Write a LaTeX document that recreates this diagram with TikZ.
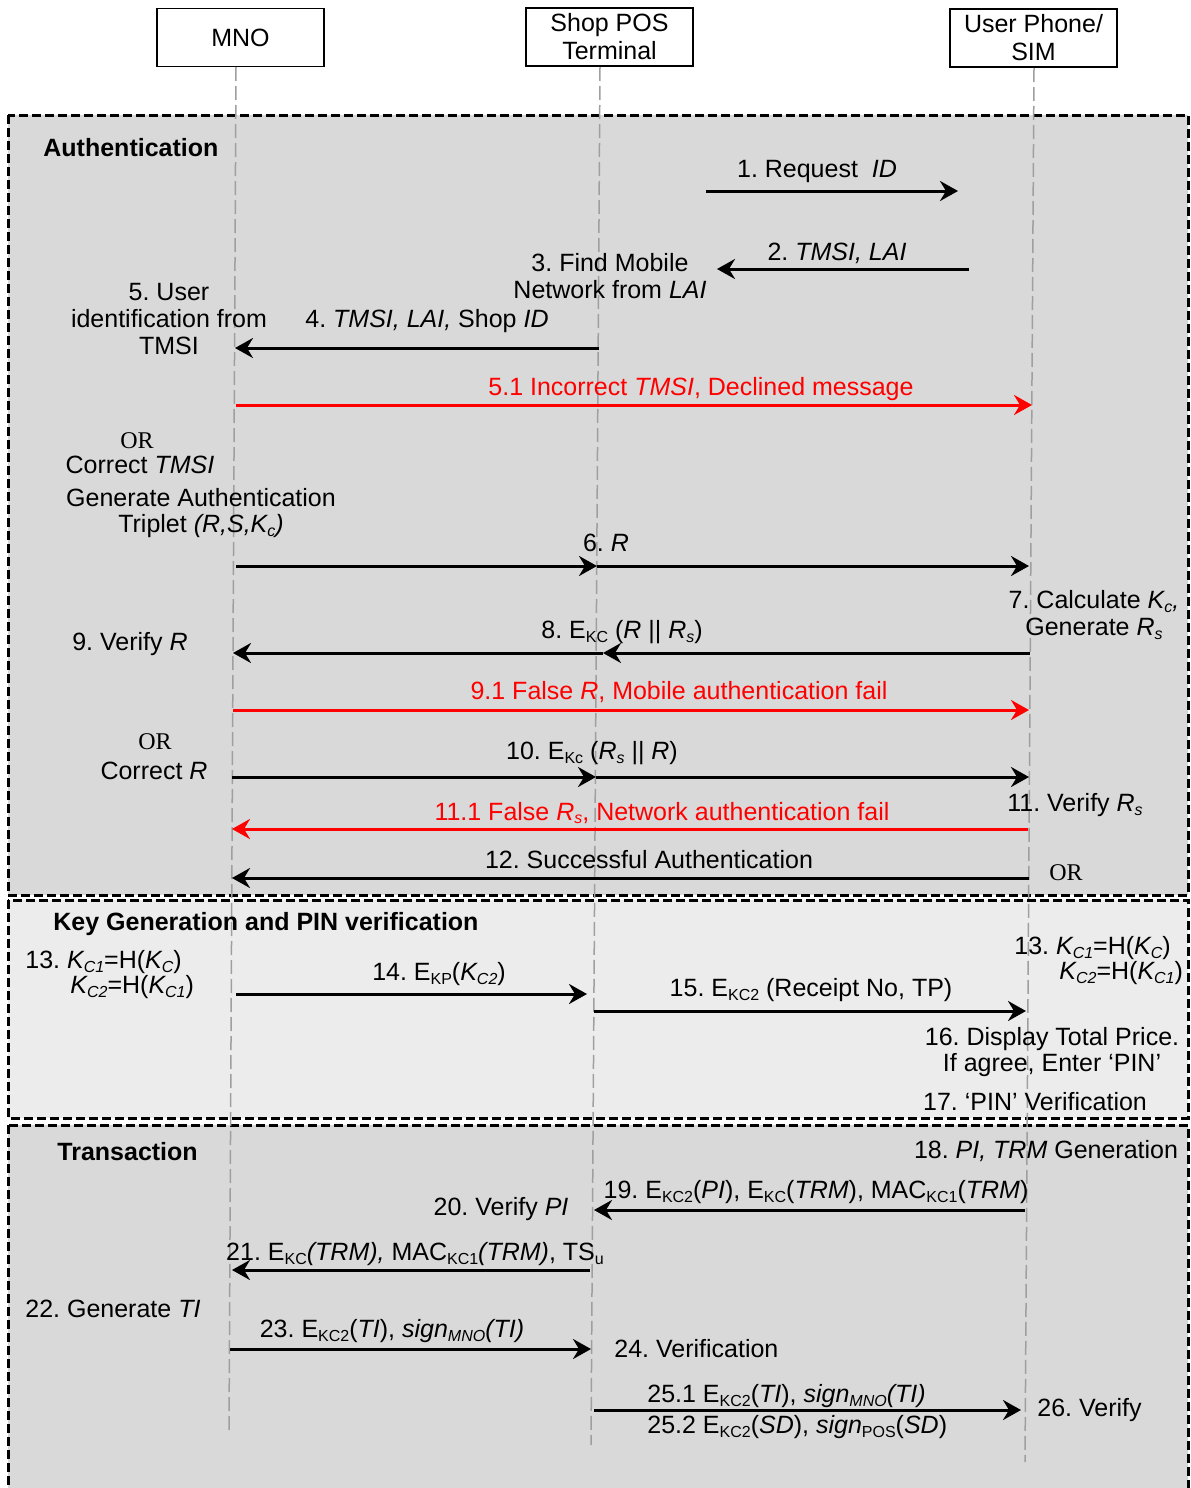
\documentclass[tikz,border=0pt]{standalone}
\usepackage{fontspec}
\setmainfont{Liberation Sans}
\newfontfamily\orfont{Liberation Serif}
\usetikzlibrary{arrows.meta}
\newcommand\lsb[1]{\raisebox{-0.3ex}{\fontsize{8}{8}\selectfont #1}}
\frenchspacing
\begin{document}
\begin{tikzpicture}[x=0.5pt,y=-0.5pt,
  font=\fontsize{12.5}{13.3}\selectfont,
  lbl/.style={inner sep=0pt, align=center, yshift=-1pt},
  orl/.style={inner sep=0pt, font=\orfont\fontsize{12}{12}\selectfont},
  ttl/.style={inner sep=0pt, anchor=west, font=\bfseries\fontsize{12.5}{13.3}\selectfont},
  msg/.style={line width=1.5pt, -{Stealth[length=9pt,width=10pt,inset=3pt]}},
  redmsg/.style={msg, red},
  life/.style={draw=gray!75, line width=0.75pt, dash pattern=on 7pt off 2.5pt},
  sect/.style={draw=black, line width=1.5pt, dash pattern=on 4.5pt off 2pt},
  hdr/.style={draw, line width=0.75pt, minimum width=83.5pt, minimum height=29pt, align=center, inner sep=0pt, fill=white, font=\fontsize{12.5}{14}\selectfont}]
\useasboundingbox (0,0) rectangle (1190,1488);
\clip (0,0) rectangle (1190,1488);
% sections
\path[sect, fill=gray!30] (8,115) rectangle (1188,895);
\path[sect, fill=gray!15] (8,900) rectangle (1188,1118);
\path[sect, fill=gray!30] (8,1125) rectangle (1188,1510);
% headers
\node[hdr] (mno) at (240.5,37.5) {MNO};
\node[hdr] (pos) at (609.5,37) {Shop POS\\Terminal};
\node[hdr] (usr) at (1033.5,38) {User Phone/\\SIM};
% lifelines
\coordinate (mnoT) at (236,67); \coordinate (mnoB) at (229,1432);
\coordinate (posT) at (600,67); \coordinate (posB) at (591,1445);
\coordinate (usrT) at (1034,68); \coordinate (usrB) at (1025,1462);
\draw[life] (mnoT) -- (mnoB);
\draw[life] (posT) -- (posB);
\draw[life] (usrT) -- (usrB);
% titles
\node[ttl] (tA) at (43,148) {Authentication};
\node[ttl] (tK) at (53,924) {Key Generation and PIN verification};
\node[ttl] (tT) at (57,1152) {Transaction};
% ---- Authentication texts
\node[lbl] (l1) at (817,169) {1. Request \ \textit{ID}};
\node[lbl] (l2) at (837,251) {2. \textit{TMSI, LAI}};
\node[lbl] (l3) at (610,274) {3. Find Mobile\\Network from \textit{LAI}};
\node[lbl] (l5) at (169,317) {5. User\\identification from\\TMSI};
\node[lbl] (l4) at (427,319) {4. \textit{TMSI, LAI,} Shop \textit{ID}};
\node[lbl, text=red] (l51) at (701,387) {5.1 Incorrect \textit{TMSI}, Declined message};
\node[orl] (or1) at (137,441) {OR};
\node[lbl] (ct) at (140,463) {Correct \textit{TMSI}};
\node[lbl] (gat) at (201,511) {Generate Authentication\\Triplet \textit{(R,S,K\lsb{c})}};
\node[lbl] (l6) at (606,541) {6. \textit{R}};
\node[lbl] (l7) at (1094,613) {7. Calculate \textit{K\lsb{c},}\\Generate \textit{R\lsb{s}}};
\node[lbl] (l8) at (622,630) {8. E\lsb{KC} (\textit{R} || \textit{R\lsb{s}})};
\node[lbl] (l9) at (130,642) {9. Verify \textit{R}};
\node[lbl, text=red] (l91) at (679,690) {9.1 False \textit{R}, Mobile authentication fail};
\node[orl] (or2) at (155,742) {OR};
\node[lbl] (cr) at (154,769) {Correct \textit{R}};
\node[lbl] (l10) at (592,751) {10. E\lsb{Kc} (\textit{R\lsb{s}} || \textit{R})};
\node[lbl] (l11) at (1075,803) {11. Verify \textit{R\lsb{s}}};
\node[lbl, text=red] (l111) at (662,811) {11.1 False \textit{R\lsb{s}}, Network authentication fail};
\node[lbl] (l12) at (649,858) {12. Successful Authentication};
\node[orl] (or3) at (1066,873) {OR};
% ---- Key generation texts
\node[lbl, anchor=west] (l13a) at (25,960) {13. \textit{K\lsb{C1}}=H(\textit{K\lsb{C}})};
\node[lbl, anchor=west] (l13b) at (70,985) {\textit{K\lsb{C2}}=H(\textit{K\lsb{C1}})};
\node[lbl] (l14) at (439,972) {14. E\lsb{KP}(\textit{K\lsb{C2}})};
\node[lbl] (l15) at (811,988) {15. E\lsb{KC2} (Receipt No, TP)};
\node[lbl, anchor=west] (r13a) at (1014,946) {13. \textit{K\lsb{C1}}=H(\textit{K\lsb{C}})};
\node[lbl, anchor=west] (r13b) at (1059,971) {\textit{K\lsb{C2}}=H(\textit{K\lsb{C1}})};
\node[lbl] (l16) at (1052,1050) {16. Display Total Price.\\If agree, Enter ‘PIN’};
\node[lbl] (l17) at (1035,1100) {17. ‘PIN’ Verification};
% ---- Transaction texts
\node[lbl] (l18) at (1046,1149) {18. \textit{PI, TRM} Generation};
\node[lbl] (l19) at (816,1190) {19. E\lsb{KC2}(\textit{PI}), E\lsb{KC}(\textit{TRM}), MAC\lsb{KC1}(\textit{TRM})};
\node[lbl] (l20) at (501,1207) {20. Verify \textit{PI}};
\node[lbl] (l21) at (415,1252) {21. E\lsb{KC}\textit{(TRM),} MAC\lsb{KC1}\textit{(TRM)}, TS\lsb{u}};
\node[lbl, anchor=west] (l22) at (25,1307) {22. Generate \textit{TI}};
\node[lbl] (l23) at (392,1329) {23. E\lsb{KC2}(\textit{TI}), \textit{sign\lsb{MNO}(TI)}};
\node[lbl, anchor=west] (l24) at (614,1347) {24. Verification};
\node[lbl, anchor=west] (l251) at (647,1394) {25.1 E\lsb{KC2}(\textit{TI}), \textit{sign\lsb{MNO}(TI)}};
\node[lbl, anchor=west] (l252) at (647,1425) {25.2 E\lsb{KC2}(\textit{SD}), \textit{sign}\lsb{POS}(\textit{SD})};
\node[lbl, anchor=west] (l26) at (1037,1408) {26. Verify};
% ---- arrow endpoints
\coordinate (a1s) at (706,191); \coordinate (a1e) at (958,191);
\coordinate (a2s) at (969,269); \coordinate (a2e) at (717,269);
\coordinate (a4s) at (599,348); \coordinate (a4e) at (235,348);
\coordinate (a51s) at (236,405); \coordinate (a51e) at (1032,405);
\coordinate (a6s) at (236,566); \coordinate (a6m) at (597,566); \coordinate (a6e) at (1029,566);
\coordinate (a8s) at (1030,653); \coordinate (a8m) at (603,653); \coordinate (a8e) at (233,653);
\coordinate (a91s) at (233,710); \coordinate (a91e) at (1029,710);
\coordinate (a10s) at (232,777); \coordinate (a10m) at (596,777); \coordinate (a10e) at (1029,777);
\coordinate (a111s) at (1028,829); \coordinate (a111e) at (232,829);
\coordinate (a12s) at (1029,878); \coordinate (a12e) at (232,878);
\coordinate (a14s) at (236,994); \coordinate (a14e) at (587,994);
\coordinate (a15s) at (594,1011); \coordinate (a15e) at (1026,1011);
\coordinate (a19s) at (1025,1210); \coordinate (a19e) at (594,1210);
\coordinate (a21s) at (590,1270); \coordinate (a21e) at (232,1270);
\coordinate (a23s) at (230,1349); \coordinate (a23e) at (591,1349);
\coordinate (a25s) at (594,1410); \coordinate (a25e) at (1021,1410);
% ---- arrows
\draw[msg] (a1s) -- (a1e);
\draw[msg] (a2s) -- (a2e);
\draw[msg] (a4s) -- (a4e);
\draw[redmsg] (a51s) -- (a51e);
\draw[msg] (a6s) -- (a6m);
\draw[msg] (a6m) -- (a6e);
\draw[msg] (a8s) -- (a8m);
\draw[msg] (a8m) -- (a8e);
\draw[redmsg] (a91s) -- (a91e);
\draw[msg] (a10s) -- (a10m);
\draw[msg] (a10m) -- (a10e);
\draw[redmsg] (a111s) -- (a111e);
\draw[msg] (a12s) -- (a12e);
\draw[msg] (a14s) -- (a14e);
\draw[msg] (a15s) -- (a15e);
\draw[msg] (a19s) -- (a19e);
\draw[msg] (a21s) -- (a21e);
\draw[msg] (a23s) -- (a23e);
\draw[msg] (a25s) -- (a25e);
\end{tikzpicture}
\end{document}
